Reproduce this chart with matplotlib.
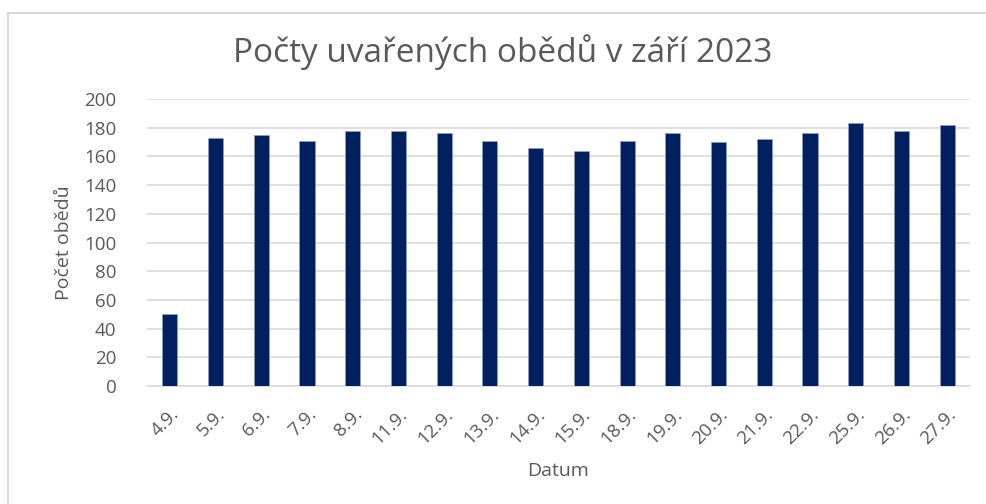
import matplotlib
matplotlib.use('Agg')
import matplotlib.pyplot as plt
from matplotlib.patches import Rectangle

# data
dates = ['4.9.', '5.9.', '6.9.', '7.9.', '8.9.', '11.9.', '12.9.', '13.9.', '14.9.',
         '15.9.', '18.9.', '19.9.', '20.9.', '21.9.', '22.9.', '25.9.', '26.9.', '27.9.']
meals = [50, 173, 175, 171, 178, 178, 176, 171, 166,
         164, 171, 176, 170, 172, 176, 183, 178, 182]

plt.rcParams['font.family'] = ['Open Sans', 'DejaVu Sans']
text_col = '#595959'

fig = plt.figure(figsize=(9.87, 5.04), dpi=100)
ax = fig.add_axes([147 / 987, 1 - 386 / 504, (970 - 147) / 987, (386 - 99) / 504])

x = range(len(dates))
ax.bar(x, meals, width=0.33, color='#002060', edgecolor='#8fa0c0', linewidth=0.5, zorder=3)

ax.set_ylim(0, 200)
ax.set_xlim(-0.5, len(dates) - 0.5)
ax.set_yticks(range(0, 201, 20))
ax.yaxis.grid(True, color='#d9d9d9', linewidth=1.2, zorder=0)
ax.set_xticks(list(x))
ax.set_xticklabels(dates, rotation=45, ha='right', rotation_mode='anchor')
ax.tick_params(axis='both', length=0, colors=text_col, labelsize=13.5)
ax.tick_params(axis='y', pad=22)
ax.tick_params(axis='x', pad=14)
for s in ['top', 'right', 'left']:
    ax.spines[s].set_visible(False)
ax.spines['bottom'].set_color('#d9d9d9')
ax.spines['bottom'].set_linewidth(1.2)

ax.set_ylabel('Počet obědů', fontsize=14, color=text_col, labelpad=8)
ax.set_xlabel('Datum', fontsize=14, color=text_col, labelpad=10)
fig.text(503 / 987, 1 - 52 / 504, 'Počty uvařených obědů v září 2023', fontsize=24,
         color=text_col, ha='center', va='center')

# chart border (only top/left visible in the crop)
fig.patches.append(Rectangle((8 / 987, -0.1), 1.1, 1 - 13 / 504 + 0.1, transform=fig.transFigure,
                             fill=False, edgecolor='#d9d9d9', linewidth=1.5))

fig.savefig('out.png', dpi=100)
